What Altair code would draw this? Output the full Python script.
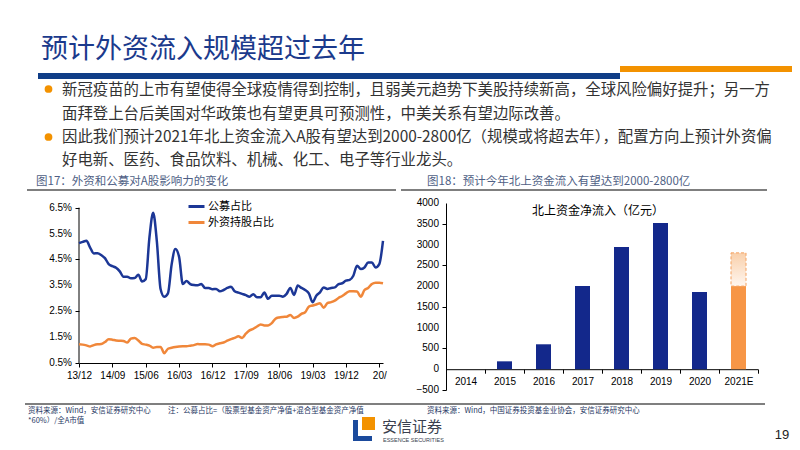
import json
import altair as alt
import pandas as pd

# ---------------- text content ----------------
TITLE = "预计外资流入规模超过去年"
BULLET_LINES = [
    "新冠疫苗的上市有望使得全球疫情得到控制，且弱美元趋势下美股持续新高，全球风险偏好提升；另一方",
    "面拜登上台后美国对华政策也有望更具可预测性，中美关系有望边际改善。",
    "因此我们预计2021年北上资金流入A股有望达到2000-2800亿（规模或将超去年），配置方向上预计外资偏",
    "好电新、医药、食品饮料、机械、化工、电子等行业龙头。",
]
LEFT_CAPTION = "图17：外资和公募对A股影响力的变化"
RIGHT_CAPTION = "图18：预计今年北上资金流入有望达到2000-2800亿"
SOURCE_LEFT = "资料来源：Wind，安信证券研究中心"
NOTE_LEFT_1 = "注：公募占比=（股票型基金资产净值+混合型基金资产净值"
NOTE_LEFT_2 = "*60%）/全A市值"
SOURCE_RIGHT = "资料来源：Wind，中国证券投资基金业协会，安信证券研究中心"
LOGO_CN = "安信证券"
LOGO_EN = "ESSENCE SECURITIES"
PAGE_NO = "19"

# ---------------- left chart data (monthly, 2013/12 onwards) ----------------
SERIES = ["公募占比", "外资持股占比"]
X_TICK_LABELS = ["13/12", "14/09", "15/06", "16/03", "16/12", "17/09", "18/06", "19/03", "19/12", "20/"]
X_TICK_POS = [0, 9, 18, 27, 36, 45, 54, 63, 72, 81]
Y_TICKS_LEFT = [0.5, 1.5, 2.5, 3.5, 4.5, 5.5, 6.5]
FUND_SHARE = [
    5.13, 5.18, 5.22, 4.96, 4.73, 4.74, 4.67, 4.55, 4.32, 4.24,
    4.18, 4.04, 3.83, 3.83, 3.77, 3.78, 3.91, 3.65, 3.74, 5.35,
    6.30, 5.20, 3.36, 3.06, 3.19, 4.32, 4.90, 4.60, 3.55, 3.67,
    3.55, 3.51, 3.50, 3.55, 3.40, 3.40, 3.35, 3.36, 3.27, 3.32,
    3.40, 3.45, 3.27, 3.22, 3.17, 3.12, 3.06, 3.16, 3.04, 3.04,
    3.22, 2.98, 3.10, 3.10, 3.10, 3.06, 3.17, 3.40, 3.13, 3.49,
    3.40, 3.32, 3.19, 2.85, 3.10, 3.23, 3.42, 3.36, 3.40, 3.42,
    3.55, 3.58, 3.68, 3.71, 3.87, 4.26, 4.13, 4.19, 4.38, 4.38,
    4.19, 4.32, 5.22,
]
FOREIGN_SHARE = [
    1.22, 1.21, 1.18, 1.14, 1.19, 1.22, 1.23, 1.31, 1.42, 1.40,
    1.37, 1.36, 1.35, 1.29, 1.44, 1.47, 1.37, 1.24, 1.21, 1.17,
    1.09, 1.12, 1.12, 0.88, 1.05, 1.09, 1.12, 1.14, 1.15, 1.15,
    1.17, 1.19, 1.23, 1.22, 1.22, 1.21, 1.15, 1.22, 1.26, 1.29,
    1.36, 1.42, 1.47, 1.53, 1.47, 1.63, 1.76, 1.82, 1.91, 1.99,
    1.95, 1.95, 2.04, 2.21, 2.26, 2.28, 2.29, 2.35, 2.24, 2.29,
    2.40, 2.46, 2.68, 2.72, 2.76, 2.81, 2.63, 2.81, 2.85, 2.91,
    3.01, 3.09, 3.19, 3.27, 3.27, 3.26, 3.06, 3.32, 3.40, 3.55,
    3.60, 3.60, 3.58,
]

# ---------------- right chart data ----------------
RIGHT_TITLE = "北上资金净流入（亿元）"
YEARS = ["2014", "2015", "2016", "2017", "2018", "2019", "2020", "2021E"]
NET_INFLOW = [0, 190, 600, 2000, 2940, 3520, 1860, 2000]
EST_YEAR = ["2021E"]
EST_LOW = [2000]
EST_HIGH = [2800]
Y_TICKS_RIGHT = [-500, 0, 500, 1000, 1500, 2000, 2500, 3000, 3500, 4000]

# ---------------- styles ----------------
CJK = "Noto Sans CJK SC"
LAT = "Liberation Sans"
NAVY = "#1B3A8C"
BLUE_LINE = "#1C3796"
ORANGE_LINE = "#F0873A"
BAR_NAVY = "#13288B"
BAR_ORANGE = "#F79646"
HEAD_BLUE = "#0F3D87"
HEAD_ORANGE = "#F39200"
CAPTION = "#4F5F85"

OX, OY = 79, 203  # page position of left plot origin


def px(v):
    return v - OX


def py(v):
    return v - OY


one = pd.DataFrame({"k": [0]})


def txt(s, x, y, size, color, font=CJK, align="left"):
    return alt.Chart(one).mark_text(
        text=s, align=align, baseline="middle", font=font, fontSize=size, color=color
    ).encode(x=alt.value(px(x)), y=alt.value(py(y)))


def rule(x1, x2, y, color, w=1):
    return alt.Chart(one).mark_rule(color=color, strokeWidth=w).encode(
        x=alt.value(px(x1)), x2=alt.value(px(x2)), y=alt.value(py(y))
    )


def box(x1, x2, y1, y2, color, opacity=1):
    return alt.Chart(one).mark_rect(color=color, opacity=opacity).encode(
        x=alt.value(px(x1)), x2=alt.value(px(x2)), y=alt.value(py(y1)), y2=alt.value(py(y2))
    )


def dot(x, y, color):
    return alt.Chart(one).mark_point(filled=True, shape="circle", size=60, color=color, opacity=1).encode(
        x=alt.value(px(x)), y=alt.value(py(y))
    )


decor = [
    box(8, 792, 8, 441, "white", opacity=0),   # invisible page frame (fixes layout bounds)
    txt(TITLE, 41, 50, 27, NAVY),
    box(38, 620, 73, 79, HEAD_BLUE),
    box(620, 792, 66, 72, HEAD_ORANGE),
    dot(48.5, 89, HEAD_ORANGE),
    dot(48.5, 137, HEAD_ORANGE),
    txt(BULLET_LINES[0], 62, 90, 15.4, "#333333"),
    txt(BULLET_LINES[1], 62, 114, 15.4, "#333333"),
    txt(BULLET_LINES[2], 62, 137, 15.4, "#333333"),
    txt(BULLET_LINES[3], 62, 160, 15.4, "#333333"),
    txt(LEFT_CAPTION, 36, 182, 11.5, CAPTION),
    txt(RIGHT_CAPTION, 427, 182, 11.5, CAPTION),
    rule(27, 396, 190, "black", 1.2),
    rule(401, 767, 190, "black", 1.2),
    rule(25, 765, 404, "black", 1.2),
    txt(SOURCE_LEFT, 28, 411, 7.5, "#1F3864"),
    txt(NOTE_LEFT_1, 168, 411, 7.5, "#1F3864"),
    txt(NOTE_LEFT_2, 28, 421, 7.5, "#1F3864"),
    txt(SOURCE_RIGHT, 427, 411, 7.5, "#1F3864"),
    box(362, 375, 417, 430, HEAD_ORANGE),
    box(353, 358, 420, 441, "#1B4A9C"),
    box(353, 372, 436, 441, "#1B4A9C"),
    txt(LOGO_CN, 382, 427, 15, "#3A3F4F"),
    txt(LOGO_EN, 383, 439.5, 5.5, "#3A3F4F", font=LAT),
    txt(PAGE_NO, 782, 435, 13, "#222222", font=LAT, align="center"),
]

# ---------------- left chart ----------------
n = len(FUND_SHARE)
df_left = pd.DataFrame({
    "m": list(range(n)) * 2,
    "v": FUND_SHARE + FOREIGN_SHARE,
    "s": [SERIES[0]] * n + [SERIES[1]] * n,
})
label_expr = json.dumps(X_TICK_LABELS) + "[round(datum.value/9)]"

y_left = alt.Y("v:Q", title=None,
               scale=alt.Scale(domain=[0.5, 6.68], nice=False, zero=False),
               axis=alt.Axis(values=Y_TICKS_LEFT, labels=False, domain=False, tickSize=4))

lines = alt.Chart(df_left).mark_line(strokeWidth=2.5, interpolate="monotone").encode(
    x=alt.X("m:Q", title=None,
            scale=alt.Scale(domain=[0, 82], nice=False, zero=False),
            axis=alt.Axis(values=X_TICK_POS, labelExpr=label_expr, tickSize=4,
                          labelPadding=3, labelFlush=False, labelOverlap=False)),
    y=y_left,
    color=alt.Color("s:N", scale=alt.Scale(domain=SERIES, range=[BLUE_LINE, ORANGE_LINE]),
                    legend=alt.Legend(orient="none", legendX=108, legendY=-6, title=None,
                                      symbolType="stroke", symbolSize=256, symbolStrokeWidth=3,
                                      labelFont=CJK, labelFontSize=11, labelColor="black",
                                      rowPadding=0, labelOffset=2, padding=0)),
    order=alt.Order("m:Q"),
)
y_axis_line = alt.Chart(one).mark_rule(color="black", strokeWidth=1).encode(
    x=alt.value(0), y=alt.datum(Y_TICKS_LEFT[0]), y2=alt.datum(Y_TICKS_LEFT[-1])
)
left_ylabels = alt.Chart(pd.DataFrame({"v": Y_TICKS_LEFT})).transform_calculate(
    lab="format(datum.v, '.1f') + '%'"
).mark_text(align="right", baseline="middle", font=LAT, fontSize=10, color="black").encode(
    x=alt.value(-7), y=alt.Y("v:Q"), text="lab:N"
)

left = alt.layer(*decor, y_axis_line, lines, left_ylabels).properties(width=304, height=160)

# ---------------- right chart ----------------
df_right = pd.DataFrame({"year": YEARS, "flow": NET_INFLOW})
df_est = pd.DataFrame({"year": EST_YEAR, "low": EST_LOW, "high": EST_HIGH})

xr = alt.X("year:N", title=None, sort=YEARS,
           scale=alt.Scale(domain=YEARS, paddingInner=0, paddingOuter=0),
           axis=alt.Axis(labelAngle=0, offset=-20.8, tickBand="extent", tickSize=4,
                         labelPadding=3, labelFont=LAT))
yr = alt.Y("flow:Q", title=None,
           scale=alt.Scale(domain=[-500, 4000], nice=False, zero=False),
           axis=alt.Axis(values=Y_TICKS_RIGHT, labels=False, tickSize=4))

bars = alt.Chart(df_right).mark_bar(size=15).encode(
    x=xr, y=yr,
    color=alt.condition(alt.datum.year == "2021E", alt.value(BAR_ORANGE), alt.value(BAR_NAVY)),
)
gradient = alt.Gradient(
    gradient="linear",
    stops=[alt.GradientStop(color="#FFF6EF", offset=0), alt.GradientStop(color="#F9D0AB", offset=1)],
    x1=0, x2=0, y1=1, y2=0,
)
est = alt.Chart(df_est).mark_bar(size=15, fill=gradient, stroke="#F4A261", strokeWidth=1,
                                 strokeDash=[3, 2]).encode(
    x=alt.X("year:N", sort=YEARS), y=alt.Y("low:Q"), y2=alt.Y2("high:Q")
)
right_ylabels = alt.Chart(pd.DataFrame({"flow": Y_TICKS_RIGHT})).transform_calculate(
    lab="format(datum.flow, 'd')"
).mark_text(align="right", baseline="middle", font=LAT, fontSize=10, color="black").encode(
    x=alt.value(-7), y=alt.Y("flow:Q"), text="lab:N"
)
rtitle = alt.Chart(one).mark_text(text=RIGHT_TITLE, align="center", baseline="middle",
                                  font=CJK, fontSize=12, color="black").encode(
    x=alt.value(152), y=alt.value(8)
)
right = alt.layer(bars, est, right_ylabels, rtitle).properties(width=312, height=187)

chart = alt.hconcat(left, right, spacing=63, bounds="flush", padding=0).configure_view(
    stroke=None
).configure_axis(
    grid=False, labelFont=LAT, labelFontSize=10, labelColor="black",
    domainColor="black", tickColor="black", domainWidth=1, tickWidth=1,
)

chart.save("out.html", embed_options={"renderer": "svg", "actions": False})
